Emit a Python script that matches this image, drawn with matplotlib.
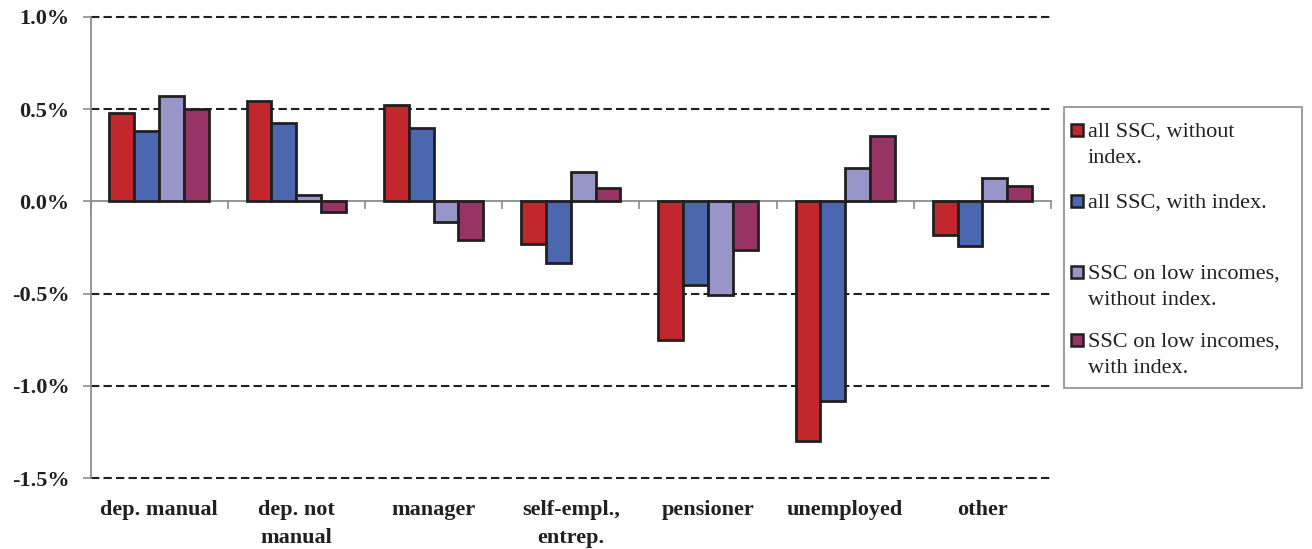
import matplotlib
matplotlib.use("Agg")
import matplotlib.pyplot as plt
from matplotlib.patches import Rectangle
import numpy as np

# Change in disposable income by household head's status (percent)
categories = ["dep. manual", "dep. not\nmanual", "manager", "self-empl.,\nentrep.",
              "pensioner", "unemployed", "other"]
series_labels = ["all SSC, without\nindex.", "all SSC, with index.",
                 "SSC on low incomes,\nwithout index.", "SSC on low incomes,\nwith index."]
all_ssc_no_index = [0.481, 0.543, 0.523, -0.230, -0.751, -1.297, -0.184]
all_ssc_index = [0.380, 0.424, 0.396, -0.336, -0.454, -1.085, -0.242]
low_inc_no_index = [0.571, 0.036, -0.114, 0.162, -0.508, 0.182, 0.128]
low_inc_index = [0.499, -0.059, -0.212, 0.072, -0.265, 0.357, 0.081]
y_ticks = [-1.5, -1.0, -0.5, 0.0, 0.5, 1.0]

series = [all_ssc_no_index, all_ssc_index, low_inc_no_index, low_inc_index]
colors = ["#C1272D", "#4A67AF", "#9896C8", "#983366"]
edge = "#231F20"
axis_gray = "#8C8C8C"

plt.rcParams["font.family"] = ["Liberation Serif", "DejaVu Serif"]

W, H = 1312, 549
fig = plt.figure(figsize=(W / 100, H / 100), dpi=100)
ax = fig.add_axes([90.5 / W, 1 - 478 / H, (1051 - 90.5) / W, (478 - 17) / H])

x = np.arange(len(categories))
bw = 0.181
for i, (vals, col) in enumerate(zip(series, colors)):
    ax.bar(x + (i - 1.5) * bw, vals, width=bw, color=col, edgecolor=edge,
           linewidth=2.0, zorder=3)

ax.set_xlim(-0.5, len(categories) - 0.5)
ax.set_ylim(y_ticks[0], y_ticks[-1])

# dashed reference lines (the zero line is the axis itself)
for yv in y_ticks:
    if yv != 0:
        ax.axhline(yv, color=edge, linestyle=(0, (4, 2)), linewidth=1.5,
                   zorder=1, clip_on=False)

# zero axis with category boundary ticks
ax.spines["bottom"].set_position(("data", 0))
ax.spines["bottom"].set_color(axis_gray)
ax.spines["bottom"].set_linewidth(1.3)
ax.spines["bottom"].set_zorder(2)
ax.set_xticks(np.arange(-0.5, len(categories), 1.0))
ax.tick_params(axis="x", direction="out", length=6, width=1.2, color=axis_gray,
               labelbottom=False)

ax.spines["left"].set_color(axis_gray)
ax.spines["left"].set_linewidth(1.3)
ax.spines["top"].set_visible(False)
ax.spines["right"].set_visible(False)

ax.set_yticks(y_ticks)
ax.set_yticklabels([f"{v:.1f}%" for v in y_ticks], fontsize=16,
                   fontweight="bold", color=edge)
ax.tick_params(axis="y", direction="out", length=6, width=1.2, color=axis_gray,
               pad=9)

# category labels along the bottom edge
sec = ax.secondary_xaxis("bottom")
sec.set_xticks(x)
sec.set_xticklabels(categories, fontsize=16, fontweight="bold", color=edge,
                    linespacing=1.5)
sec.tick_params(axis="x", length=0, pad=16)
sec.spines["bottom"].set_visible(False)

# legend box
bx0, bx1, by0, by1 = 1064, 1302, 107, 388
fig.patches.append(Rectangle((bx0 / W, 1 - by1 / H), (bx1 - bx0) / W, (by1 - by0) / H,
                             transform=fig.transFigure, facecolor="white",
                             edgecolor=axis_gray, linewidth=1.2))
entry_y = [130, 201, 272, 340]
for lab, col, yc in zip(series_labels, colors, entry_y):
    s = 12
    fig.patches.append(Rectangle((1071 / W, 1 - (yc + s / 2) / H), s / W, s / H,
                                 transform=fig.transFigure, facecolor=col,
                                 edgecolor=edge, linewidth=1.8))
    fig.text(1088 / W, 1 - (yc - 7) / H, lab, fontsize=16, color=edge,
             va="top", ha="left", linespacing=1.5)

fig.savefig("out.png", dpi=100)
